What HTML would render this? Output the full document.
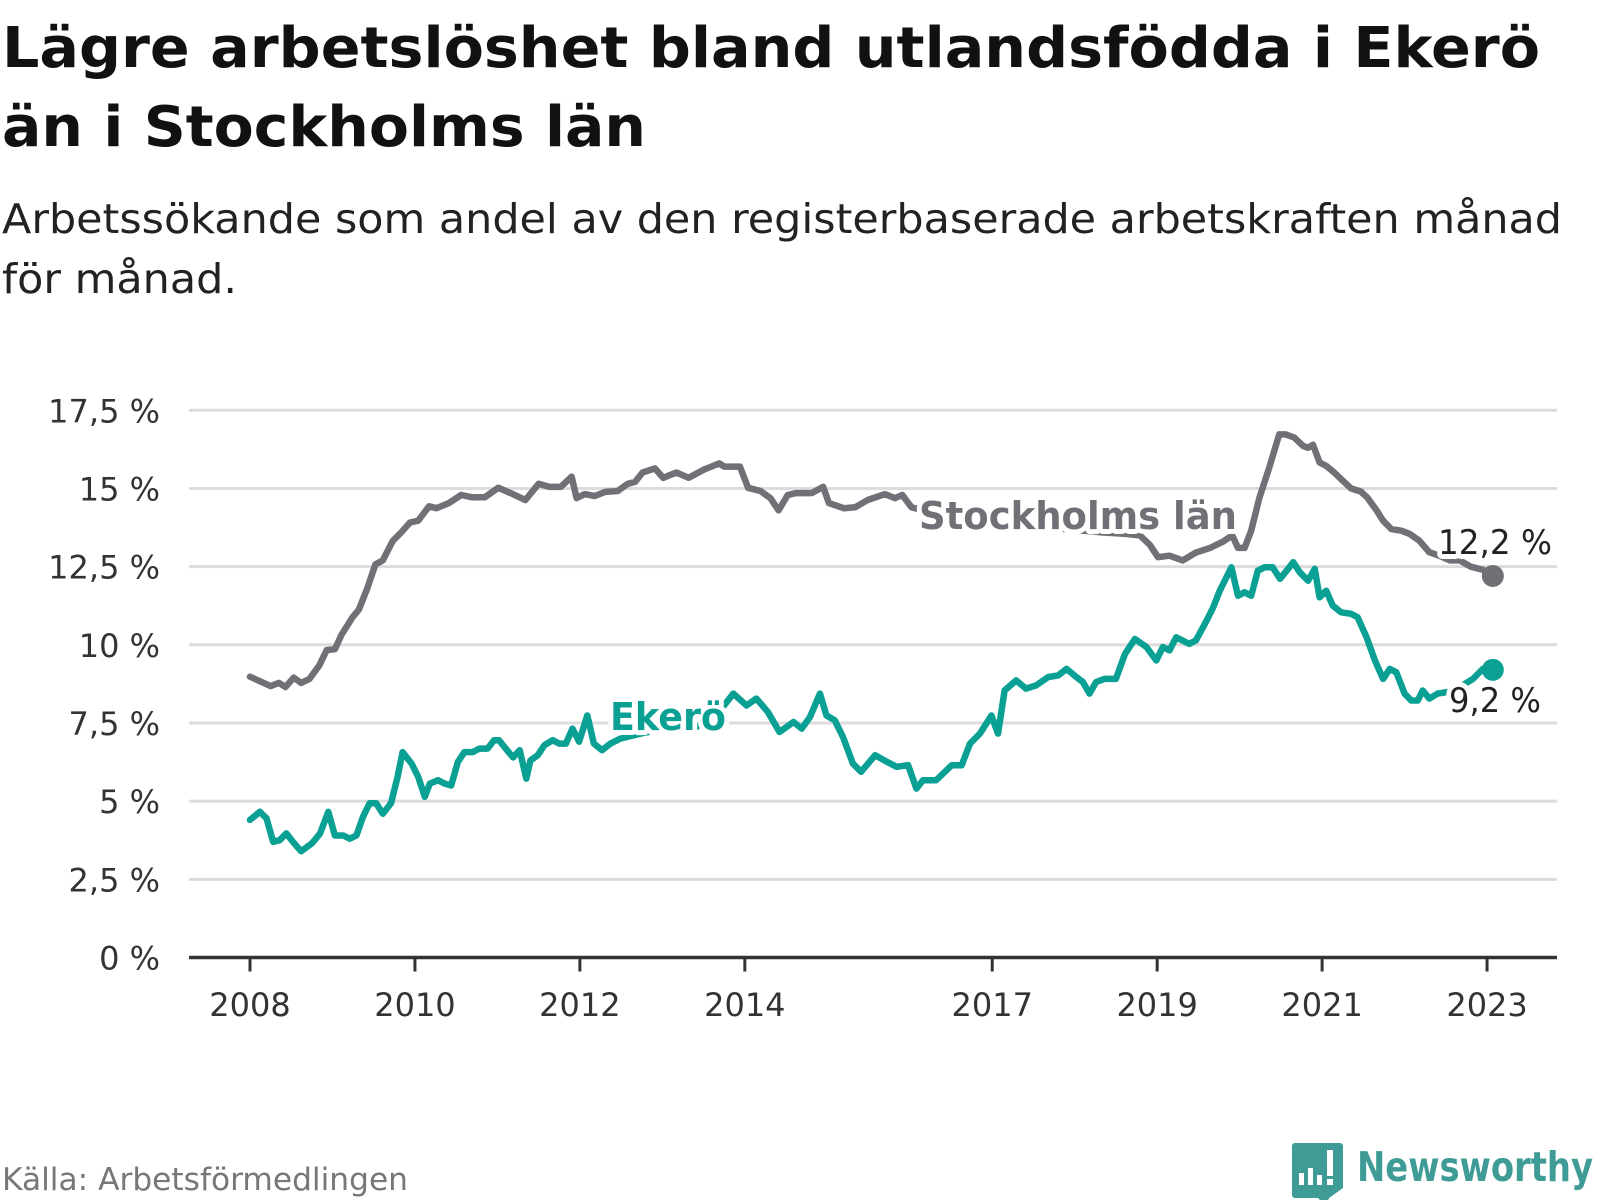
<!DOCTYPE html>
<html><head><meta charset="utf-8"><style>
html,body{margin:0;padding:0;background:#fff;}
svg{display:block;font-family:"DejaVu Sans","Liberation Sans",sans-serif;}
.halo{paint-order:stroke;stroke:#fff;stroke-width:10;stroke-linejoin:round;}
</style></head><body>
<svg id="chart" width="1600" height="1200" viewBox="0 0 1600 1200" xmlns="http://www.w3.org/2000/svg">
<text x="2" y="67" font-size="56" font-weight="bold" fill="#111" textLength="1538" lengthAdjust="spacingAndGlyphs">Lägre arbetslöshet bland utlandsfödda i Ekerö</text>
<text x="2" y="146" font-size="56" font-weight="bold" fill="#111" textLength="644" lengthAdjust="spacingAndGlyphs">än i Stockholms län</text>
<text x="2" y="233" font-size="41" fill="#222" textLength="1560" lengthAdjust="spacingAndGlyphs">Arbetssökande som andel av den registerbaserade arbetskraften månad</text>
<text x="2" y="293" font-size="41" fill="#222" textLength="235" lengthAdjust="spacingAndGlyphs">för månad.</text>
<g id="grid"></g>
<g id="yaxis"></g>
<g id="xaxis"></g>
<g id="series"></g>
<text x="2" y="1190" font-size="31" fill="#777" textLength="406" lengthAdjust="spacingAndGlyphs">Källa: Arbetsförmedlingen</text>
<g>
<path d="M1292 1143 h48 a3 3 0 0 1 3 3 v42 l-14 10 l-3 8 l-8 -8 h-23 a3 3 0 0 1 -3 -3 v-49 a3 3 0 0 1 3 -3z" fill="#3f9b95"/>
<rect x="1299" y="1173" width="5" height="12" fill="#fff"/><rect x="1308" y="1168" width="5" height="17" fill="#fff"/><rect x="1317" y="1175" width="5" height="10" fill="#fff"/><rect x="1327" y="1150" width="6" height="26" fill="#fff"/><rect x="1327" y="1179" width="6" height="6" fill="#fff"/>
<text x="1357" y="1181" font-size="41" font-weight="bold" fill="#3f9b95" textLength="236" lengthAdjust="spacingAndGlyphs">Newsworthy</text>
</g>
</svg>
<script>
const yTicks=[0,2.5,5,7.5,10,12.5,15,17.5];
const yTickLabels=["0 %","2,5 %","5 %","7,5 %","10 %","12,5 %","15 %","17,5 %"];
const xTicks=[2008,2010,2012,2014,2017,2019,2021,2023];
const xTickLabels=["2008","2010","2012","2014","2017","2019","2021","2023"];
const sthlmTimes=[2008.00,2008.25,2008.35,2008.43,2008.53,2008.62,2008.72,2008.84,2008.93,2009.03,2009.11,2009.24,2009.32,2009.42,2009.52,2009.61,2009.73,2009.84,2009.94,2010.04,2010.17,2010.26,2010.41,2010.56,2010.69,2010.85,2011.01,2011.16,2011.34,2011.50,2011.63,2011.77,2011.90,2011.96,2012.06,2012.18,2012.31,2012.46,2012.58,2012.67,2012.76,2012.91,2013.01,2013.17,2013.32,2013.51,2013.69,2013.75,2013.94,2014.04,2014.19,2014.31,2014.41,2014.52,2014.62,2014.81,2014.95,2015.02,2015.20,2015.34,2015.49,2015.59,2015.70,2015.82,2015.91,2016.02,2016.3,2016.7,2017.1,2017.5,2017.9,2018.3,2018.6,2018.79,2018.91,2019.01,2019.15,2019.31,2019.47,2019.64,2019.80,2019.91,2019.98,2020.06,2020.14,2020.24,2020.36,2020.48,2020.56,2020.66,2020.77,2020.83,2020.89,2020.97,2021.05,2021.15,2021.25,2021.35,2021.47,2021.55,2021.66,2021.74,2021.84,2021.96,2022.06,2022.18,2022.30,2022.42,2022.55,2022.67,2022.8,2022.95,2023.07];
const sthlmValues=[8.98,8.68,8.78,8.65,8.95,8.78,8.91,9.34,9.83,9.86,10.32,10.87,11.13,11.79,12.57,12.70,13.32,13.61,13.91,13.97,14.43,14.37,14.53,14.79,14.72,14.72,15.02,14.85,14.63,15.15,15.05,15.05,15.38,14.69,14.82,14.76,14.89,14.92,15.15,15.21,15.51,15.64,15.34,15.51,15.34,15.61,15.80,15.70,15.70,15.02,14.92,14.69,14.30,14.79,14.85,14.85,15.05,14.53,14.37,14.40,14.63,14.72,14.82,14.69,14.79,14.40,14.2,14.0,13.9,13.8,13.7,13.6,13.55,13.5,13.2,12.8,12.85,12.7,12.95,13.1,13.3,13.5,13.1,13.1,13.65,14.7,15.67,16.73,16.73,16.63,16.36,16.3,16.4,15.83,15.72,15.5,15.25,15.0,14.9,14.7,14.3,13.97,13.7,13.65,13.55,13.33,12.96,12.85,12.7,12.7,12.5,12.4,12.2];
const ekeroTimes=[2008.0,2008.12,2008.2,2008.28,2008.36,2008.44,2008.52,2008.62,2008.75,2008.85,2008.95,2009.03,2009.13,2009.21,2009.29,2009.37,2009.45,2009.53,2009.61,2009.71,2009.79,2009.85,2009.96,2010.04,2010.12,2010.18,2010.28,2010.36,2010.44,2010.52,2010.6,2010.7,2010.78,2010.88,2010.96,2011.02,2011.1,2011.19,2011.27,2011.35,2011.4,2011.49,2011.57,2011.67,2011.75,2011.83,2011.91,2011.99,2012.09,2012.17,2012.27,2012.37,2012.49,2012.8,2013.1,2013.4,2013.7,2013.86,2014.02,2014.14,2014.28,2014.42,2014.59,2014.69,2014.79,2014.91,2014.99,2015.09,2015.19,2015.31,2015.41,2015.58,2015.72,2015.84,2015.98,2016.08,2016.16,2016.32,2016.51,2016.63,2016.73,2016.85,2016.99,2017.07,2017.15,2017.29,2017.41,2017.53,2017.68,2017.80,2017.90,2018.02,2018.10,2018.18,2018.26,2018.36,2018.50,2018.61,2018.73,2018.87,2018.99,2019.07,2019.15,2019.23,2019.39,2019.47,2019.6,2019.68,2019.76,2019.90,2019.98,2020.06,2020.14,2020.22,2020.30,2020.40,2020.49,2020.57,2020.65,2020.73,2020.83,2020.91,2020.97,2021.05,2021.13,2021.23,2021.35,2021.43,2021.54,2021.64,2021.74,2021.82,2021.90,2022.0,2022.08,2022.16,2022.22,2022.30,2022.40,2022.55,2022.7,2022.83,2022.95,2023.07];
const ekeroValues=[4.4,4.66,4.45,3.7,3.75,3.97,3.7,3.4,3.65,3.97,4.66,3.9,3.9,3.8,3.9,4.5,4.93,4.93,4.6,4.93,5.78,6.57,6.2,5.78,5.14,5.56,5.67,5.56,5.5,6.25,6.57,6.57,6.68,6.68,6.95,6.95,6.68,6.4,6.63,5.72,6.3,6.47,6.79,6.95,6.84,6.84,7.32,6.9,7.74,6.84,6.63,6.84,7.0,7.2,7.3,7.35,7.9,8.44,8.06,8.28,7.85,7.21,7.53,7.32,7.69,8.44,7.74,7.59,7.05,6.2,5.94,6.47,6.26,6.1,6.15,5.4,5.67,5.67,6.15,6.15,6.84,7.16,7.74,7.16,8.54,8.86,8.6,8.7,8.97,9.02,9.23,8.97,8.81,8.44,8.81,8.91,8.91,9.71,10.19,9.93,9.5,9.93,9.82,10.24,10.03,10.14,10.78,11.2,11.73,12.48,11.57,11.68,11.57,12.37,12.48,12.48,12.11,12.37,12.64,12.32,12.05,12.43,11.52,11.73,11.25,11.04,10.99,10.88,10.24,9.5,8.91,9.23,9.12,8.44,8.22,8.22,8.54,8.28,8.44,8.5,8.7,8.91,9.23,9.2];

const NS="http://www.w3.org/2000/svg";
const X0=189,X1=1557;
function xs(t){return 250+(t-2008)*82.47;}
function ys(v){return 957.5-v*31.27;}
function mk(tag,attrs,parent){const e=document.createElementNS(NS,tag);for(const k in attrs)e.setAttribute(k,attrs[k]);parent.appendChild(e);return e;}
const grid=document.getElementById('grid'),yax=document.getElementById('yaxis'),xax=document.getElementById('xaxis'),ser=document.getElementById('series');
yTicks.forEach((v,i)=>{
  if(v>0){const g=mk('line',{x1:X0,x2:X1,y1:ys(v),y2:ys(v),stroke:'#dcdcdc','stroke-width':3},grid);
  
  }
  const t=mk('text',{x:160,y:ys(v)+12,'font-size':32,fill:'#333','text-anchor':'end'},yax);
  t.textContent=yTickLabels[i];
  
  
});
const ax=mk('line',{x1:X0,x2:X1,y1:ys(0),y2:ys(0),stroke:'#333','stroke-width':3.5},xax);


xTicks.forEach((yr,i)=>{
  const tk=mk('line',{x1:xs(yr),x2:xs(yr),y1:ys(0),y2:ys(0)+14,stroke:'#333','stroke-width':3},xax);
  
  
  const t=mk('text',{x:xs(yr),y:1016,'font-size':32,fill:'#333','text-anchor':'middle'},xax);
  t.textContent=xTickLabels[i];
  
  
});
function line(times,vals,color,name){
  const d=times.map((t,i)=>(i?'L':'M')+xs(t).toFixed(1)+' '+ys(vals[i]).toFixed(1)).join(' ');
  const p=mk('path',{d:d,fill:'none',stroke:color,'stroke-width':6.5,'stroke-linejoin':'round','stroke-linecap':'round'},ser);
  
  
  const n=times.length-1;
  const c=mk('circle',{cx:xs(times[n]),cy:ys(vals[n]),r:11,fill:color},ser);
  
  
}
line(sthlmTimes,sthlmValues,'#707076','stockholm-line');
line(ekeroTimes,ekeroValues,'#0aa194','ekero-line');
function label(x,y,txt,size,weight,color,name,len){
  const t=mk('text',{x:x,y:y,'font-size':size,'font-weight':weight,fill:color,class:'halo',textLength:len,lengthAdjust:'spacingAndGlyphs'},ser);
  t.textContent=txt;
  
  
}
label(919,529,'Stockholms län',38,'bold','#707076','stockholm-series-label',318);
label(610,730,'Ekerö',38,'bold','#0aa194','ekero-series-label',116);
const sl=sthlmValues[sthlmValues.length-1],el=ekeroValues[ekeroValues.length-1];
label(1438,554,String(sl).replace('.',',')+' %',34,'normal','#222','stockholm-value-label',114);
label(1449,712,String(el).replace('.',',')+' %',34,'normal','#222','ekero-value-label',92);
</script>
</body></html>
